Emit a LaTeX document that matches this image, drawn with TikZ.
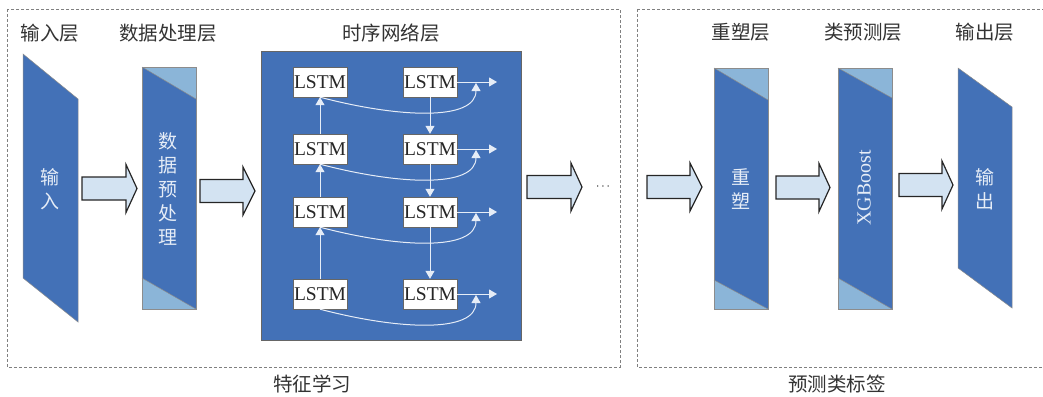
\documentclass[tikz,border=0pt]{standalone}
\usepackage{fontspec}
\setmainfont{Liberation Serif}
\newfontfamily\cjk{Noto Sans CJK SC}
\usetikzlibrary{arrows.meta}
\definecolor{dblue}{HTML}{4371B7}
\definecolor{lblue}{HTML}{8BB5D8}
\definecolor{afill}{HTML}{D3E3F2}
\definecolor{lbl}{HTML}{333333}
\definecolor{inner}{HTML}{E6EDF7}
\newcommand\blockarrow[4]{%
  \draw[blk] (#1,#4-11.5) -- (#3,#4-11.5) -- (#3,#4-24) -- (#2,#4) -- (#3,#4+24) -- (#3,#4+11.5) -- (#1,#4+11.5) -- cycle;}
\begin{document}
\begin{tikzpicture}[x=1pt,y=-1pt,
  lstmbox/.style={draw=black!60, fill=white, minimum width=54pt, minimum height=30pt, inner sep=0pt, font=\fontsize{19.5}{19.5}\selectfont, text=black!85},
  warr/.style={draw=inner, line width=1pt, -{Triangle[width=9pt,length=8pt]}},
  blk/.style={fill=afill, draw=black!85, line width=1.2pt, line join=miter},
  lab/.style={font=\cjk\fontsize{19.5}{19.5}\selectfont, text=lbl, inner sep=0pt},
  intext/.style={font=\cjk\fontsize{19}{24}\selectfont, text=inner, align=center, inner sep=0pt},
  layer/.style={draw=black!45, line width=0.5pt},
  frame/.style={draw=black!50, dashed, dash pattern=on 3pt off 2pt, line width=0.6pt}]
\useasboundingbox (0,0) rectangle (1043,396);
% dashed frames
\draw[frame] (7,9) rectangle (620,367);
\draw[frame] (637,9) -- (1050,9) (637,9) -- (637,367) -- (1050,367);
% top labels
\node[lab] (l1) at (50,33) {输入层};
\node[lab] (l2) at (168,33) {数据处理层};
\node[lab] (l3) at (391,33) {时序网络层};
\node[lab] (l4) at (741,32) {重塑层};
\node[lab] (l5) at (863,32) {类预测层};
\node[lab] (l6) at (985,32) {输出层};
% bottom labels
\node[lab] (b1l) at (312,384) {特征学习};
\node[lab] (b2l) at (837,384) {预测类标签};
% input layer
\fill[dblue] (23,54) -- (78,99) -- (78,322) -- (23,278) -- cycle;
\draw[layer] (23,54) -- (78,99) -- (78,322) -- (23,278) -- cycle;
\node[intext] (tin) at (50,189) {输\\入};
% data processing layer
\fill[lblue] (142,67) rectangle (196,309);
\fill[dblue] (142,67) -- (196,99) -- (196,309) -- (142,278) -- cycle;
\draw[layer] (142,67) rectangle (196,309);
\draw[layer] (142,67) -- (196,99) (142,278) -- (196,309);
\node[intext] (tdp) at (168,189) {数\\据\\预\\处\\理};
% block arrows
\blockarrow{82}{137}{126}{188.5}
\blockarrow{200}{255}{243}{191}
\blockarrow{527}{582}{571}{187}
\node[inner sep=0pt, font=\fontsize{12}{12}\selectfont] (dots) at (603,187) {$\cdots$};
\blockarrow{647}{702}{690}{187}
\blockarrow{776}{830}{819}{187.5}
\blockarrow{899}{953}{942}{185}
% network layer
\node[draw=black!60, fill=dblue, minimum width=260pt, minimum height=289pt, inner sep=0pt] (net) at (391,195.5) {};
\foreach \r/\y in {1/82,2/149,3/212,4/294}{
  \node[lstmbox] (a\r) at (320,\y) {LSTM};
  \node[lstmbox] (b\r) at (430,\y) {LSTM};
  \coordinate (o\r) at (497,\y);
  \coordinate (c\r) at (476,\y+1);
}
\foreach \r in {1,2,3,4}{
  \draw[warr] (b\r.east) -- (o\r);
  \draw[warr] (a\r.south) .. controls +(80,21) and +(0,38) .. (c\r);
}
\draw[warr] (a2.north) -- (a1.south);
\draw[warr] (a3.north) -- (a2.south);
\draw[warr] (a4.north) -- (a3.south);
\draw[warr] (b1.south) -- (b2.north);
\draw[warr] (b2.south) -- (b3.north);
\draw[warr] (b3.south) -- (b4.north);
% reshape layer
\fill[lblue] (714,68) rectangle (768,309);
\fill[dblue] (714,68) -- (768,100) -- (768,309) -- (714,280) -- cycle;
\draw[layer] (714,68) rectangle (768,309);
\draw[layer] (714,68) -- (768,100) (714,280) -- (768,309);
\node[intext] (trs) at (741,189.5) {重\\塑};
% xgboost layer
\fill[lblue] (838,68) rectangle (892,309);
\fill[dblue] (838,68) -- (892,98) -- (892,309) -- (838,278) -- cycle;
\draw[layer] (838,68) rectangle (892,309);
\draw[layer] (838,68) -- (892,98) (838,278) -- (892,309);
\node[rotate=90, text=inner, inner sep=0pt, font=\fontsize{20}{20}\selectfont] (txg) at (864,188) {XGBoost};
% output layer
\fill[dblue] (958,68) -- (1012,107) -- (1012,308) -- (958,268) -- cycle;
\draw[layer] (958,68) -- (1012,107) -- (1012,308) -- (958,268) -- cycle;
\node[intext] (tout) at (985,189.5) {输\\出};
\end{tikzpicture}
\end{document}
